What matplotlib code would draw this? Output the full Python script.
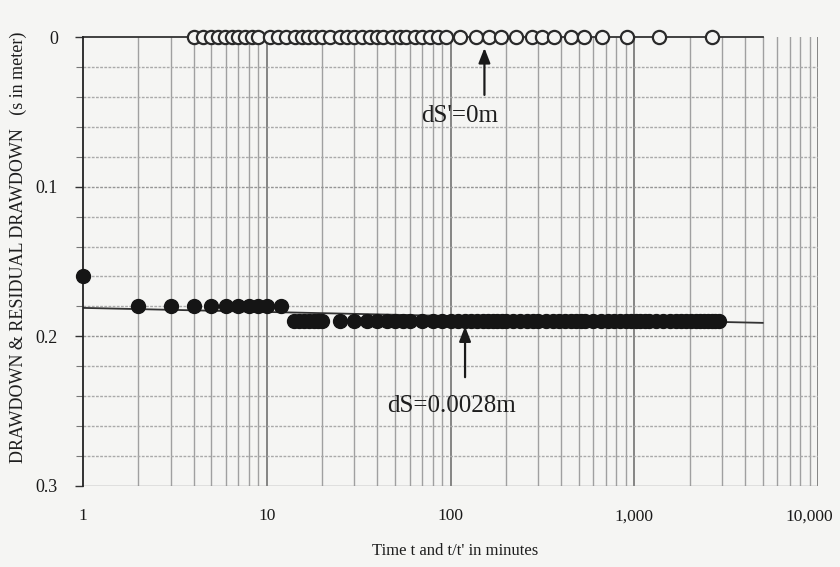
import matplotlib
matplotlib.use("Agg")
import matplotlib.pyplot as plt
from matplotlib.ticker import FixedLocator, NullFormatter
from matplotlib.transforms import ScaledTranslation

plt.rcParams['font.family'] = ['Liberation Serif', 'DejaVu Serif']

# ---- data ----
# drawdown (pumping phase) : time t in minutes, s in meter
draw_t = [1, 2, 3, 4, 5, 6, 7, 8, 9, 10, 12,
          14, 15, 16, 17, 18, 19, 20, 25, 30, 35, 40, 45, 50, 55, 60, 70, 80, 90,
          100, 110, 120, 130, 140, 150, 160, 170, 180, 190, 200, 220, 240, 260,
          280, 300, 330, 360, 390, 420, 450, 480, 510, 540, 600, 660, 720, 780,
          840, 900, 960, 1020, 1080, 1140, 1200, 1320, 1440, 1560, 1680, 1800,
          1920, 2040, 2160, 2280, 2400, 2520, 2640, 2760, 2880]
draw_s = [0.16] + [0.18] * 10 + [0.19] * (len(draw_t) - 11)

# residual drawdown (recovery phase) : t/t', s' in meter
resid_tt = [4, 4.5, 5, 5.4, 5.9, 6.5, 7, 7.6, 8.3, 9, 10.4, 11.5, 12.8, 14.2,
            15.5, 16.7, 18.2, 20, 22, 25, 27.5, 30, 32.8, 36.3, 40, 42.7, 47.8,
            52.8, 57.6, 63.7, 69.6, 76.9, 85, 95, 112, 138, 163, 189, 228, 276,
            316, 367, 455, 535, 670, 916, 1368, 2654]
resid_s = [0.0] * len(resid_tt)

# fitted straight lines
fit_draw_t = [1, 5000]
fit_draw_s = [0.181, 0.191]
fit_resid_t = [1, 5000]
fit_resid_s = [0.0, 0.0]

x_ticks = [1, 10, 100, 1000, 10000]
x_tick_labels = ['1', '10', '100', '1,000', '10,000']
y_ticks = [0, 0.1, 0.2, 0.3]
y_tick_labels = ['0', '0.1', '0.2', '0.3']

bg = '#f5f5f3'
fig = plt.figure(figsize=(8.4, 5.67), dpi=100, facecolor=bg)
ax = fig.add_axes([83 / 840, 1 - 486 / 567, (818 - 83) / 840, (486 - 37) / 567])
ax.set_facecolor(bg)

ax.set_xscale('log')
ax.set_xlim(1, 10000)
ax.set_ylim(0.3, 0)

# grid
minor_x = [m * 10 ** e for e in range(0, 4) for m in range(2, 10)]
for xv in minor_x:
    ax.axvline(xv, color='#a0a0a0', lw=1.0, zorder=1)
for xv in [10, 100, 1000, 10000]:
    ax.axvline(xv, color='#666666', lw=1.1, zorder=1)
for yv in [0.02 * i for i in range(1, 15)]:
    if abs(yv - 0.1) < 1e-9 or abs(yv - 0.2) < 1e-9:
        ax.axhline(yv, color='#959595', lw=1.0, ls=(0, (2, 1)), zorder=1)
    else:
        ax.axhline(yv, color='#aaaaaa', lw=1.0, ls=(0, (2, 1)), zorder=1)
ax.axhline(0.3, color='#888888', lw=1.0, zorder=1)

# fitted lines
ax.plot(fit_resid_t, fit_resid_s, color='#333333', lw=1.3, zorder=2, clip_on=False)
ax.plot(fit_draw_t, fit_draw_s, color='#333333', lw=1.3, zorder=2)

# data
ax.plot(resid_tt, resid_s, ls='none', marker='o', ms=9.5, mfc=bg, mec='#2a2a2a',
        mew=1.6, zorder=3, clip_on=False)
ax.plot(draw_t, draw_s, ls='none', marker='o', ms=10, mfc='#151515', mec='#151515',
        zorder=3, clip_on=False)

# annotations
arrow_style = dict(arrowstyle='-|>,head_length=0.9,head_width=0.35',
                   color='#1a1a1a', lw=1.6, shrinkA=0, shrinkB=0)
ax.annotate('', xy=(153, 0.0073), xytext=(153, 0.0387), arrowprops=arrow_style, zorder=4)
ax.text(112, 0.0527, "dS'=0m", ha='center', va='center', fontsize=18, color='#1e1e1e')
ax.annotate('', xy=(120, 0.1933), xytext=(120, 0.2273), arrowprops=arrow_style, zorder=4)
ax.text(101, 0.2467, "dS=0.0028m", ha='center', va='center', fontsize=18, color='#1e1e1e')

# spines and ticks
for side in ['top', 'right', 'bottom']:
    ax.spines[side].set_visible(False)
ax.spines['left'].set_color('#222222')
ax.spines['left'].set_linewidth(1.3)

ax.xaxis.set_major_locator(FixedLocator(x_ticks))
ax.xaxis.set_minor_locator(FixedLocator([]))
ax.set_xticklabels(x_tick_labels)
ax.tick_params(axis='x', which='both', length=0, pad=16, labelsize=12.5, labelcolor='#1a1a1a')
last = ax.get_xticklabels()[-1]
last.set_transform(last.get_transform() + ScaledTranslation(-9 / 100, 0, fig.dpi_scale_trans))

ax.yaxis.set_major_locator(FixedLocator(y_ticks))
ax.yaxis.set_minor_locator(FixedLocator([0.02 * i for i in range(1, 15)]))
ax.yaxis.set_minor_formatter(NullFormatter())
ax.set_yticklabels(y_tick_labels)
ax.tick_params(axis='y', which='major', length=6, width=1.0, color='#333333', pad=12,
               labelsize=13, labelcolor='#1a1a1a')
ax.tick_params(axis='y', which='minor', length=5, width=0.8, color='#777777')

fig.text(18 / 840, 1 - 247 / 567, "DRAWDOWN & RESIDUAL DRAWDOWN   (s in meter)",
         rotation=90, ha='center', va='center', fontsize=13, color='#1e1e1e')
fig.text(455 / 840, 1 - 551 / 567, "Time t and t/t' in minutes",
         ha='center', va='center', fontsize=12, color='#1e1e1e')

fig.savefig('out.png', dpi=100, facecolor=bg)
